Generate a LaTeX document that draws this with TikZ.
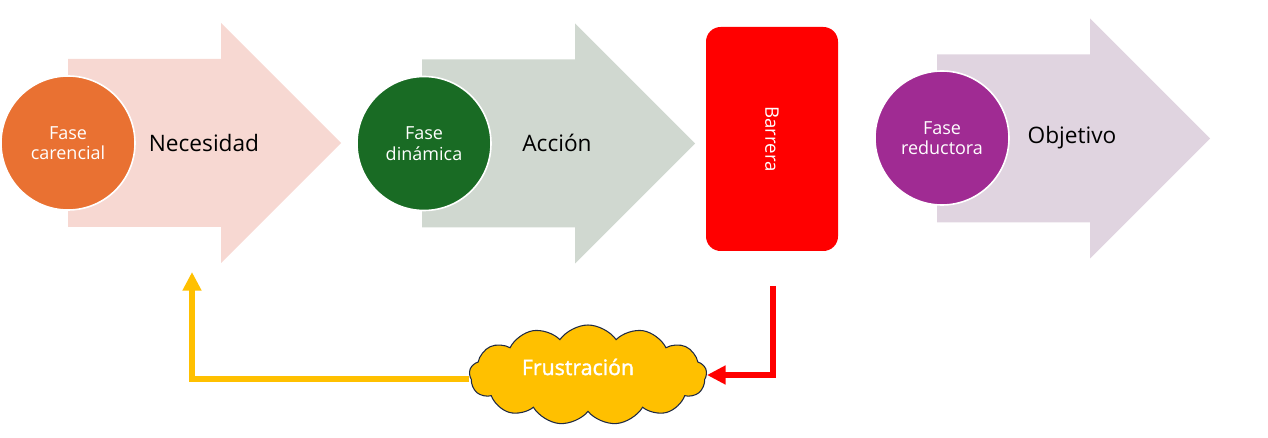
\documentclass[tikz,border=0pt]{standalone}
\usepackage{fontspec}
\setmainfont{Open Sans}
\usetikzlibrary{shapes.symbols,arrows.meta}

\definecolor{naranja}{HTML}{E97132}
\definecolor{verde}{HTML}{196B24}
\definecolor{morado}{HTML}{A02B93}
\definecolor{rosa}{HTML}{F7D8D2}
\definecolor{gris}{HTML}{D0D8D0}
\definecolor{lila}{HTML}{E0D4E0}
\definecolor{amarillo}{HTML}{FFC000}
\definecolor{borde}{HTML}{1F2A44}

\def\flecha(#1,#2)#3{\fill[#3] (#1,#2-84) -- (#1+153,#2-84) -- (#1+153,#2-120) -- (#1+273,#2) -- (#1+153,#2+120) -- (#1+153,#2+84) -- (#1,#2+84) -- cycle;}

\tikzset{
	fase/.style={circle, draw=white, line width=1.2pt, minimum size=100.5pt, inner sep=0pt, text=white, align=center, font=\fontsize{13.5}{15.4}\selectfont},
	etiqueta/.style={font=\fontsize{17}{20}\selectfont},
	linea/.style={line width=4.5pt, -{Triangle[length=14pt,width=13.5pt]}}
}

\begin{document}
\begin{tikzpicture}[x=0.75pt,y=-0.75pt]
			%%%%% START %%%%%
			\useasboundingbox (0,0) rectangle (1268,438);
			
			\flecha(68,143){rosa}
			\flecha(422,143.5){gris}
			\flecha(937,138.5){lila}
			
			\node[fase, fill=naranja] (carencial) at (68,143) {Fase\\carencial};
			\node[etiqueta] (necesidad) at (204,143) {Necesidad};
			
			\node[fase, fill=verde] (dinamica) at (424,143.5) {Fase\\dinámica};
			\node[etiqueta] (accion) at (557,143) {Acción};
			
			\node[rectangle, rounded corners=11pt, fill=red, minimum width=99pt, minimum height=168pt] (barrera) at (772,139) {};
			\node[rotate=-90, text=white, font=\fontsize{14}{16}\selectfont] (barreratxt) at (barrera.center) {Barrera};
			
			\node[fase, fill=morado] (reductora) at (942,138) {Fase\\reductora};
			\node[etiqueta] (objetivo) at (1072,138) {Objetivo};
			
			\node[cloud, cloud puffs=13, cloud puff arc=110, aspect=2.4, fill=amarillo, draw=borde, line width=0.8pt, minimum width=178pt, minimum height=75pt] (frustracion) at (588,375) {};
			\node[text=white, font=\fontsize{16}{18}\selectfont\addfontfeature{FakeBold=1.5}] (frustraciontxt) at (578,367) {Frustración};
			
			\coordinate (salida) at (773,286);
			\coordinate (regreso) at (192,272);
			
			\draw[linea, color=red] (salida) |- (frustracion.east);
			\draw[linea, color=amarillo] ([yshift=-3pt]frustracion.west) -| (regreso);
			
			%%%%% END %%%%%
		\end{tikzpicture}
\end{document}
